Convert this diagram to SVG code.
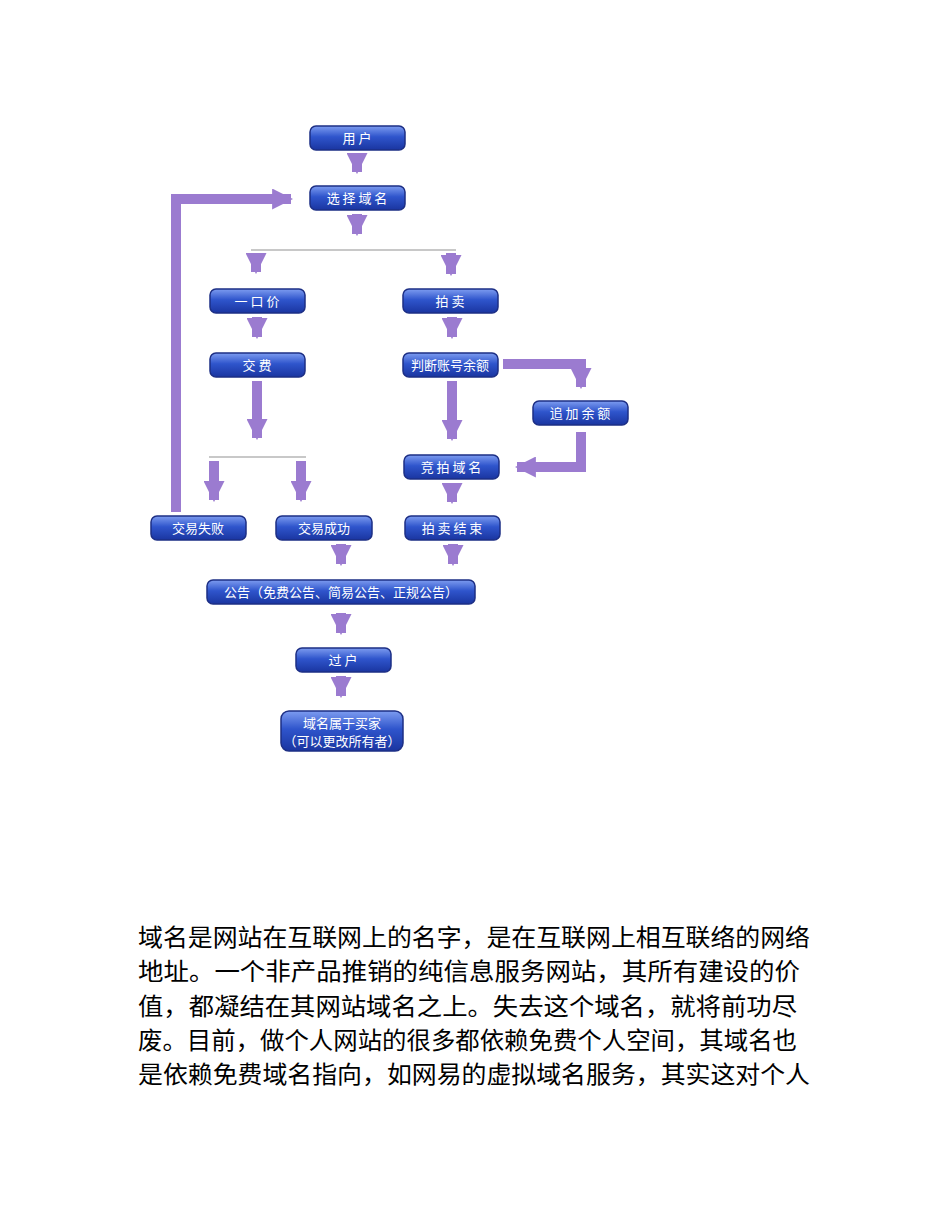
<svg xmlns="http://www.w3.org/2000/svg" width="950" height="1230" viewBox="0 0 950 1230">
<defs>
<linearGradient id="g" x1="0" y1="0" x2="0" y2="1">
<stop offset="0" stop-color="#7d9cf0"/><stop offset="0.45" stop-color="#2f55cc"/><stop offset="1" stop-color="#1a35a0"/>
</linearGradient>
<marker id="ah" viewBox="0 0 10 10" refX="9" refY="5" markerWidth="2.1" markerHeight="2.1" orient="auto" markerUnits="strokeWidth"><path d="M0,0 L10,5 L0,10 z" fill="#9b7bd0"/></marker>
</defs>
<style>
.n rect{fill:url(#g);stroke:#1d2f85;stroke-width:1.5}
.n text{fill:#fff;font-family:"Noto Sans CJK SC",sans-serif;font-size:13px;text-anchor:middle}
.c path{fill:none;stroke:#9b7bd0;stroke-width:10;marker-end:url(#ah)}
.g line{stroke:#c8c8c8;stroke-width:2}
.p{font-family:"Noto Sans CJK SC",sans-serif;font-size:24px;fill:#000}
</style>
<rect width="950" height="1230" fill="#fff"/>
<g class="g"><line x1="251" y1="250" x2="456" y2="250"/><line x1="209" y1="457" x2="306" y2="457"/></g>
<g class="c">
<path d="M357,153V172"/>
<path d="M357,214V234"/>
<path d="M256,253V272"/>
<path d="M451,253V274"/>
<path d="M257,317V337"/>
<path d="M452,317V337"/>
<path d="M257,381V438"/>
<path d="M452,381V439"/>
<path d="M214,461V500"/>
<path d="M301,461V500"/>
<path d="M176,512V199H291"/>
<path d="M503,364H581V387"/>
<path d="M581,432V467H517"/>
<path d="M452,483V502"/>
<path d="M341,544V564"/>
<path d="M453,544V564"/>
<path d="M341,613V633"/>
<path d="M341,676V696"/>
</g>
<g id="n1" class="n"><rect x="310" y="126" width="95" height="24" rx="6"/><text x="357" y="143">用 户</text></g>
<g id="n2" class="n"><rect x="310" y="186" width="95" height="24" rx="6"/><text x="357" y="203">选 择 域 名</text></g>
<g id="n3" class="n"><rect x="210" y="289" width="95" height="24" rx="6"/><text x="257" y="306">一 口 价</text></g>
<g id="n4" class="n"><rect x="403" y="289" width="95" height="24" rx="6"/><text x="450" y="306">拍 卖</text></g>
<g id="n5" class="n"><rect x="210" y="353" width="95" height="24" rx="6"/><text x="257" y="370">交 费</text></g>
<g id="n6" class="n"><rect x="403" y="353" width="95" height="24" rx="6"/><text x="450" y="370">判断账号余额</text></g>
<g id="n7" class="n"><rect x="533" y="401" width="95" height="24" rx="6"/><text x="580" y="418">追 加 余 额</text></g>
<g id="n8" class="n"><rect x="404" y="455" width="95" height="24" rx="6"/><text x="451" y="472">竞 拍 域 名</text></g>
<g id="n9" class="n"><rect x="151" y="516" width="95" height="24" rx="6"/><text x="198" y="533">交易失败</text></g>
<g id="n10" class="n"><rect x="276" y="516" width="96" height="24" rx="6"/><text x="324" y="533">交易成功</text></g>
<g id="n11" class="n"><rect x="405" y="516" width="95" height="24" rx="6"/><text x="452" y="533">拍 卖 结 束</text></g>
<g id="n12" class="n"><rect x="207" y="580" width="268" height="24" rx="6"/><text x="341" y="597">公告（免费公告、简易公告、正规公告）</text></g>
<g id="n13" class="n"><rect x="296" y="648" width="95" height="24" rx="6"/><text x="343" y="665">过 户</text></g>
<g id="n14" class="n"><rect x="281" y="711" width="122" height="40" rx="8"/><text x="342" y="728">域名属于买家</text><text x="342" y="746">（可以更改所有者）</text></g>
<g class="p">
<text x="138" y="946" textLength="672" lengthAdjust="spacingAndGlyphs">域名是网站在互联网上的名字，是在互联网上相互联络的网络</text>
<text x="138" y="980" textLength="662" lengthAdjust="spacingAndGlyphs">地址。一个非产品推销的纯信息服务网站，其所有建设的价</text>
<text x="138" y="1015" textLength="659" lengthAdjust="spacingAndGlyphs">值，都凝结在其网站域名之上。失去这个域名，就将前功尽</text>
<text x="138" y="1049" textLength="659" lengthAdjust="spacingAndGlyphs">废。目前，做个人网站的很多都依赖免费个人空间，其域名也</text>
<text x="138" y="1083" textLength="672" lengthAdjust="spacingAndGlyphs">是依赖免费域名指向，如网易的虚拟域名服务，其实这对个人</text>
</g>
</svg>
